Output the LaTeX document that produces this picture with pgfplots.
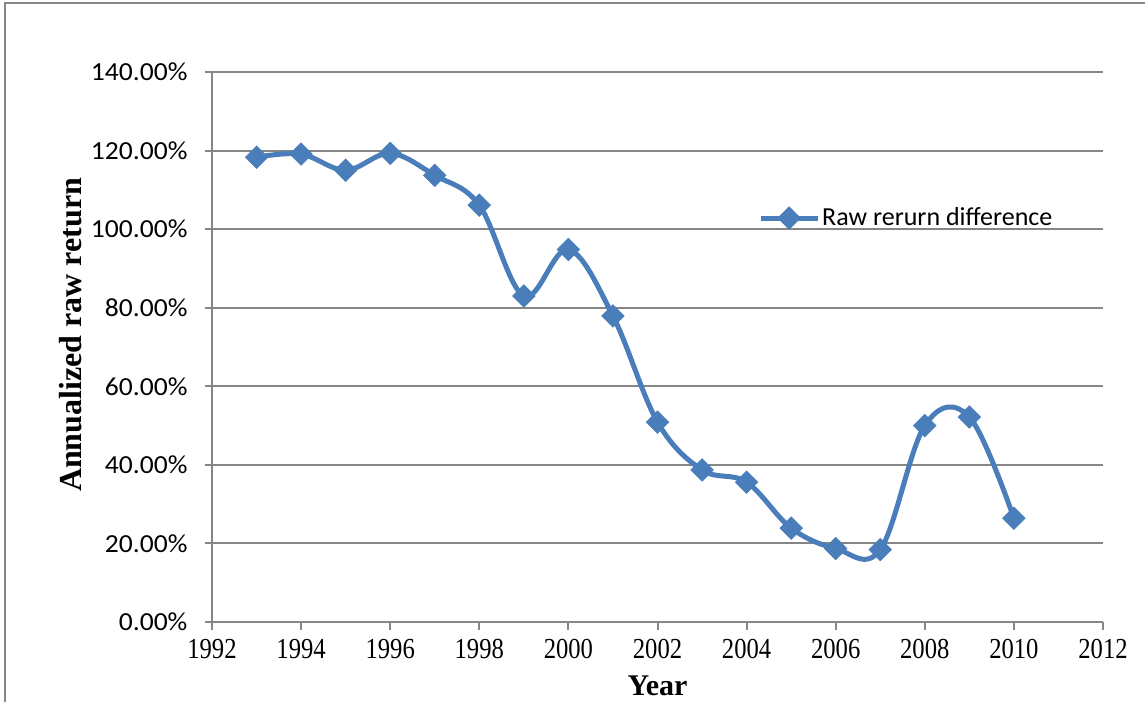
\documentclass[border=0pt]{standalone}
\usepackage{fontspec}
\setmainfont{Liberation Serif}
\newfontfamily\calibri{Carlito}
\newfontfamily\calibriwide[FakeStretch=1.06]{Carlito}
\newfontfamily\yearfont[FakeStretch=0.85]{Liberation Serif}
\usepackage{pgfplots}
\pgfplotsset{compat=1.18}
\definecolor{excelblue}{HTML}{4A7EBB}
\definecolor{gridgray}{HTML}{868686}
\begin{document}
\begin{tikzpicture}
\useasboundingbox (-106pt,-40pt) rectangle (466.5pt,311pt);
\draw[gridgray, line width=1pt] (-103.5pt,-40pt) -- (-103.5pt,309.25pt) -- (466.5pt,309.25pt);
\begin{axis}[
  at={(0pt,0pt)}, anchor=south west,
  scale only axis, width=445.5pt, height=275pt,
  xmin=1992, xmax=2012, ymin=0, ymax=140,
  xtick={1992,1994,1996,1998,2000,2002,2004,2006,2008,2010,2012},
  xticklabels={1992,1994,1996,1998,2000,2002,2004,2006,2008,2010,2012},
  ytick={0,20,40,60,80,100,120,140},
  yticklabels={0.00\%,20.00\%,40.00\%,60.00\%,80.00\%,100.00\%,120.00\%,140.00\%},
  axis x line*=bottom, axis y line*=left,
  axis line style={gridgray, line width=1pt},
  tick style={gridgray, line width=1pt},
  tick align=outside, major tick length=3.75pt,
  ymajorgrids, grid style={gridgray, line width=1pt},
  yticklabel style={font=\calibriwide\fontsize{13}{15}\selectfont, text=black, xshift=-5pt},
  xticklabel style={font=\yearfont\fontsize{14.5}{16}\selectfont, text=black, yshift=-1.5pt},
  xlabel={Year},
  xlabel style={font=\bfseries\fontsize{15}{18}\selectfont, at={(axis description cs:0.5,-0.1164)}, anchor=center},
  ylabel={Annualized raw return},
  ylabel style={font=\bfseries\fontsize{16}{18}\selectfont, at={(axis description cs:-0.159,0.522)}, anchor=center},
  legend style={at={(axis description cs:0.613,0.7345)}, anchor=west, draw=none, fill=none,
    font=\calibri\fontsize{13}{15}\selectfont, inner sep=0pt, outer sep=0pt,
    nodes={inner sep=1pt}},
  legend image code/.code={\draw[mark repeat=2,mark phase=2,#1] plot coordinates {(0pt,0pt) (14.25pt,0pt) (28.5pt,0pt)};},
  clip=false,
]
\addplot[excelblue, line width=2.5pt, smooth, tension=0.6, mark=square*, mark size=3.9pt, mark options={rotate=45, solid, line width=0.5pt}] coordinates {
(1993,118.3) (1994,119.1) (1995,115.0) (1996,119.3) (1997,113.7) (1998,106.1)
(1999,83.0) (2000,94.8) (2001,77.9) (2002,50.9) (2003,38.7) (2004,35.6)
(2005,23.9) (2006,18.7) (2007,18.4) (2008,50.0) (2009,52.2) (2010,26.4)
};
\addlegendentry{Raw rerurn difference}
\end{axis}
\end{tikzpicture}
\end{document}
